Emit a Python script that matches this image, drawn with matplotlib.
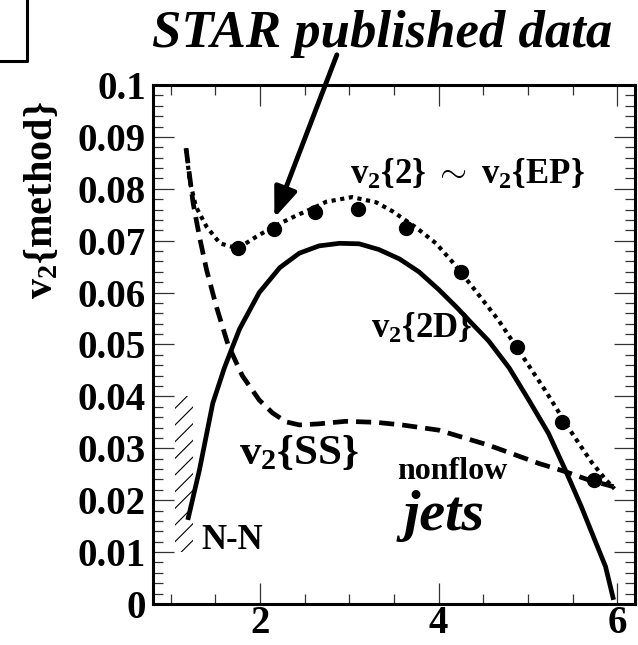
import matplotlib
matplotlib.use('Agg')
import matplotlib.pyplot as plt
from matplotlib.ticker import MultipleLocator

plt.rcParams['font.family'] = ['Liberation Serif', 'DejaVu Serif']
plt.rcParams['font.weight'] = 'bold'
plt.rcParams['mathtext.fontset'] = 'custom'
plt.rcParams['mathtext.rm'] = 'Liberation Serif'
plt.rcParams['mathtext.bf'] = 'Liberation Serif:bold'
plt.rcParams['mathtext.it'] = 'Liberation Serif:italic'
plt.rcParams['hatch.linewidth'] = 0.8

# published v2{2} / v2{EP} points
pt_data = [1.75, 2.16, 2.61, 3.10, 3.64, 4.25, 4.88, 5.38, 5.74]
v2_data = [0.0686, 0.0723, 0.0755, 0.0761, 0.0725, 0.0640, 0.0495, 0.0351, 0.0239]

# v2{2} ~ v2{EP} curve (dotted)
pt_ep = [1.17, 1.21, 1.28, 1.40, 1.55, 1.75, 1.96, 2.16, 2.40, 2.61, 2.74, 3.03, 3.30,
         3.48, 3.75, 3.97, 4.15, 4.37, 4.67, 4.93, 5.20, 5.46, 5.71, 5.87, 5.97]
v2_ep = [0.0878, 0.0817, 0.0766, 0.0727, 0.0695, 0.0685, 0.0708, 0.0728, 0.0748, 0.0764,
         0.0775, 0.0784, 0.0774, 0.0757, 0.0725, 0.0695, 0.0660, 0.0613, 0.0547, 0.0480,
         0.0410, 0.0338, 0.0274, 0.0240, 0.0222]

# v2{SS} curve (dashed)
pt_ss = [1.17, 1.25, 1.32, 1.40, 1.51, 1.64, 1.80, 1.99, 2.14, 2.29, 2.44, 2.65, 2.96,
         3.30, 3.59, 4.00, 4.56, 5.12, 5.42, 5.68, 5.96]
v2_ss = [0.0878, 0.0772, 0.0708, 0.0644, 0.0573, 0.0500, 0.0440, 0.0393, 0.0368, 0.0351,
         0.0345, 0.0347, 0.0352, 0.0350, 0.0345, 0.0335, 0.0306, 0.0271, 0.0255, 0.0239,
         0.0226]

# v2{2D} curve (solid)
pt_2d = [1.19, 1.32, 1.47, 1.60, 1.69, 1.77, 1.99, 2.22, 2.44, 2.66, 2.89, 3.11, 3.33,
         3.56, 3.78, 4.00, 4.20, 4.37, 4.56, 4.79, 5.01, 5.23, 5.42, 5.60, 5.75, 5.87, 5.96]
v2_2d = [0.0162, 0.0258, 0.0387, 0.0455, 0.0495, 0.0530, 0.0600, 0.0648, 0.0676, 0.0690,
         0.0695, 0.0694, 0.0683, 0.0665, 0.0640, 0.0606, 0.0572, 0.0541, 0.0507, 0.0455,
         0.0393, 0.0329, 0.0258, 0.0187, 0.0123, 0.0072, 0.0008]

# N-N reference band
nn_x = [1.05, 1.25]
nn_lo = [0.010, 0.010]
nn_hi = [0.040, 0.040]

yticks = [0, 0.01, 0.02, 0.03, 0.04, 0.05, 0.06, 0.07, 0.08, 0.09, 0.1]
ylabels = ['0', '0.01', '0.02', '0.03', '0.04', '0.05', '0.06', '0.07', '0.08', '0.09', '0.1']

fig = plt.figure(figsize=(6.38, 6.45), dpi=100)
ax = fig.add_axes([0.2398, 0.0636, 0.7555, 0.8046])

ax.fill_between(nn_x, nn_lo, nn_hi, facecolor='none', edgecolor='k', linewidth=0, hatch='//')
ax.plot(pt_2d, v2_2d, color='k', lw=3.4, solid_capstyle='butt')
ax.plot(pt_ss, v2_ss, color='k', lw=3.4, dashes=(3.2, 1.7))
ax.plot(pt_ep, v2_ep, color='k', lw=3.0, linestyle=(0, (1, 1.1)))
ax.plot(pt_data, v2_data, 'o', color='k', ms=10)

ax.set_xlim(0.8, 6.2)
ax.set_ylim(0, 0.1)
ax.xaxis.set_major_locator(MultipleLocator(2))
ax.xaxis.set_minor_locator(MultipleLocator(0.5))
ax.set_yticks(yticks)
ax.set_yticklabels(ylabels)
ax.yaxis.set_minor_locator(MultipleLocator(0.002))
ax.tick_params(which='both', direction='in', top=True, right=True, width=0.9, color='#333333')
ax.tick_params(which='major', length=15)
ax.tick_params(which='minor', length=7)
ax.tick_params(axis='y', which='major', labelsize=28, pad=5)
ax.tick_params(axis='x', which='major', labelsize=28, pad=1)
for s in ax.spines.values():
    s.set_linewidth(2.2)

fig.text(0.066, 0.69, r'$\mathbf{v_2\{method\}}$', rotation=90, ha='center', va='center', fontsize=29)

ax.text(4.32, 0.0827, r'$\mathbf{v_2\{2\}\ \sim\ v_2\{EP\}}$', ha='center', va='center', fontsize=25)
ax.text(3.81, 0.0530, r'$\mathbf{v_2\{2D\}}$', ha='center', va='center', fontsize=25)
ax.text(2.44, 0.0290, r'$\mathbf{v_2}\{\mathrm{SS}\}$', ha='center', va='center', fontsize=31)
ax.text(4.15, 0.0256, 'nonflow', ha='center', va='center', fontsize=23, fontweight='bold')
ax.text(4.06, 0.0143, 'jets', ha='center', va='baseline', fontsize=42, fontweight='bold', style='italic')
ax.text(1.69, 0.0123, 'N-N', ha='center', va='center', fontsize=25, fontweight='bold')

fig.text(0.599, 0.927, 'STAR published data', ha='center', va='baseline',
         fontsize=38, fontweight='bold', style='italic')
ax.annotate('', xy=(2.16, 0.0744), xycoords='data', xytext=(0.528, 0.915), textcoords='figure fraction',
            arrowprops=dict(arrowstyle='-|>,head_width=0.35,head_length=0.9', lw=3.5, color='k',
                            mutation_scale=20, shrinkA=0, shrinkB=0))

# corner of the panel label box
fig.add_artist(plt.Line2D([0, 27 / 638, 27 / 638], [1 - 61 / 645, 1 - 61 / 645, 1.0],
                          transform=fig.transFigure, color='k', lw=2.2))

fig.savefig('out.png', dpi=100)
